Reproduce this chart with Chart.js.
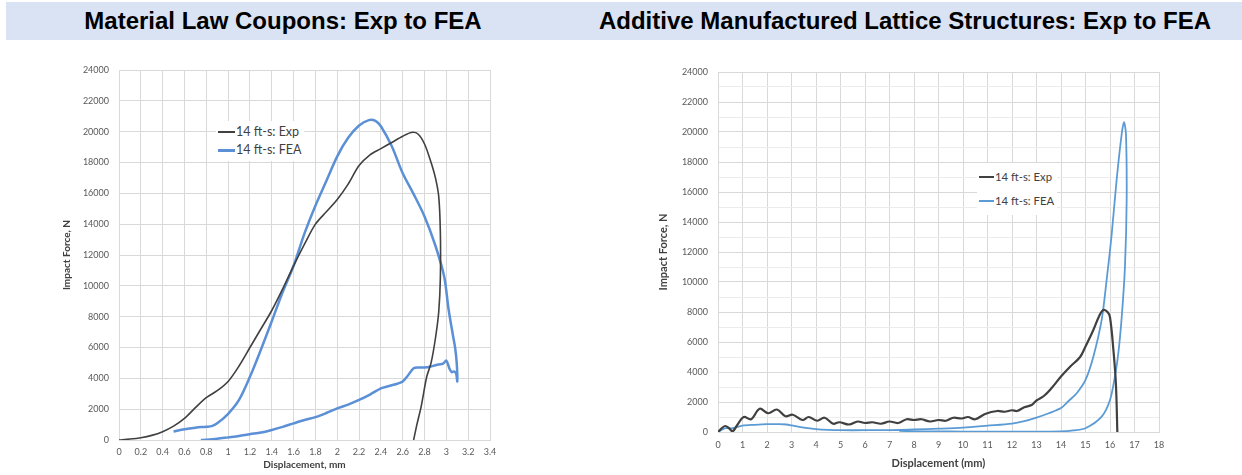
<!DOCTYPE html>
<html><head><meta charset="utf-8">
<script src="https://cdn.jsdelivr.net/npm/chart.js@4.4.1/dist/chart.umd.min.js"></script>
<style>
html,body{margin:0;padding:0;background:#fff;width:1242px;height:475px;overflow:hidden;position:relative;}
#band{position:absolute;left:6px;top:2px;width:1236px;height:38px;background:#dae3f3;}
.title{position:absolute;top:2px;width:700px;height:38px;line-height:38px;font-family:"Liberation Sans Narrow","Liberation Sans",Arial,sans-serif;font-weight:bold;font-size:24px;color:#000;text-align:center;white-space:nowrap;}
.wrap{position:absolute;}
.legend{position:absolute;background:#fff;font-family:Lato,sans-serif;color:#404040;white-space:nowrap;padding:2px 3px 2px 2px;}
.legend .row{display:flex;align-items:center;}
.legend .sw{display:inline-block;margin-right:1px;}
</style>
</head>
<body>
<div id="band"></div>
<div class="title" style="left:-67px;">Material Law Coupons: Exp to FEA</div>
<div class="title" style="left:555px;">Additive Manufactured Lattice Structures: Exp to FEA</div>

<div class="wrap" style="left:0;top:45px;width:600px;height:430px;"><canvas id="c1" width="600" height="430"></canvas></div>
<div class="wrap" style="left:620px;top:45px;width:622px;height:430px;"><canvas id="c2" width="622" height="430"></canvas></div>

<div class="legend" style="left:216px;top:121px;font-size:12.5px;line-height:18px;">
  <div class="row"><span class="sw" style="width:17px;border-top:2px solid #404040;"></span>14 ft-s: Exp</div>
  <div class="row"><span class="sw" style="width:17px;border-top:3px solid #5b8fd6;"></span>14 ft-s: FEA</div>
</div>
<div class="legend" style="left:977px;top:163px;font-size:11.3px;line-height:24px;">
  <div class="row"><span class="sw" style="width:15px;border-top:2px solid #404040;"></span>14 ft-s: Exp</div>
  <div class="row"><span class="sw" style="width:15px;border-top:2px solid #5b9bd5;"></span>14 ft-s: FEA</div>
</div>

<script>
// ---------- Left chart: Material Law Coupons ----------
const leftExpX = [0,0.1,0.2,0.3,0.4,0.5,0.6,0.7,0.8,0.9,1.0,1.1,1.2,1.3,1.4,1.5,1.6,1.7,1.8,1.9,2.0,2.1,2.2,2.3,2.4,2.5,2.6,2.68,2.74,2.8,2.86,2.9,2.93,2.945,2.945,2.93,2.9,2.86,2.82,2.77,2.73,2.70];
const leftExpY = [0,60,150,300,540,900,1400,2100,2750,3200,3800,4800,6000,7200,8400,9800,11300,12700,14000,14800,15600,16600,17800,18500,18900,19300,19700,19950,19850,19200,18000,17000,15800,13500,10500,8300,6600,5000,4100,2200,1000,0];
const leftFeaX = [0.5,0.6,0.7,0.8,0.85,0.9,1.0,1.1,1.2,1.3,1.4,1.5,1.6,1.7,1.8,1.9,2.0,2.1,2.2,2.29,2.35,2.4,2.5,2.6,2.7,2.8,2.9,2.98,3.02,3.06,3.08,3.095,3.1,3.09,3.07,3.05,3.03,3.0,2.97,2.93,2.9,2.85,2.8,2.75,2.7,2.65,2.6,2.55,2.5,2.45,2.4,2.3,2.2,2.1,2.0,1.9,1.8,1.7,1.6,1.5,1.4,1.3,1.2,1.1,1.0,0.9,0.8,0.75];
const leftFeaY = [550,700,800,860,900,1080,1700,2600,4100,5850,7700,9600,11300,13400,15200,16800,18400,19600,20400,20750,20700,20350,19050,17300,15950,14500,12600,10600,8500,6800,6000,5000,3800,4300,4450,4400,4600,5150,4950,4900,4850,4750,4700,4700,4650,4200,3800,3650,3550,3450,3350,2950,2600,2300,2050,1750,1480,1300,1080,850,650,480,380,260,170,80,20,0];
const leftXTicks = [0,0.2,0.4,0.6,0.8,1,1.2,1.4,1.6,1.8,2,2.2,2.4,2.6,2.8,3,3.2,3.4];
const leftXLabels = ["0","0.2","0.4","0.6","0.8","1","1.2","1.4","1.6","1.8","2","2.2","2.4","2.6","2.8","3","3.2","3.4"];
const leftYTicks = [0,2000,4000,6000,8000,10000,12000,14000,16000,18000,20000,22000,24000];
const leftYLabels = ["0","2000","4000","6000","8000","10000","12000","14000","16000","18000","20000","22000","24000"];

// ---------- Right chart: AM Lattice Structures ----------
const rightExpX = [0,0.15,0.3,0.45,0.6,0.8,1.05,1.35,1.7,2.05,2.4,2.75,3.05,3.45,3.7,4.05,4.35,4.7,4.95,5.35,5.7,6.0,6.3,6.65,7.0,7.35,7.7,8.0,8.3,8.65,9.0,9.3,9.6,9.95,10.2,10.5,10.9,11.4,11.7,12.0,12.2,12.5,12.8,13.0,13.3,13.6,14.0,14.37,14.78,15.0,15.32,15.55,15.73,15.9,16.0,16.14,16.24,16.3];
const rightExpY = [0,250,400,250,50,500,1000,850,1550,1250,1500,1050,1150,800,1000,750,950,550,650,500,700,600,650,550,700,600,850,800,850,700,800,750,950,900,1000,850,1200,1400,1350,1450,1400,1650,1800,2100,2400,2900,3700,4350,5000,5700,6800,7700,8130,8000,7650,5450,3250,0];
const rightFeaX = [0,0.3,0.6,1.0,1.5,2.0,2.5,2.8,3.0,3.5,4.0,4.5,5.0,6.0,7.0,8.0,9.0,10.0,11.0,12.0,12.5,13.0,13.5,14.0,14.3,14.64,15.0,15.32,15.66,15.86,16.07,16.27,16.48,16.57,16.65,16.68,16.61,16.48,16.34,16.2,16.0,15.66,15.0,14.5,14.0,13.0,12.0,11.0,10.0,9.0,8.0,7.4];
const rightFeaY = [0,250,250,420,480,520,520,500,440,290,190,140,120,120,130,170,220,290,420,560,720,960,1250,1600,2050,2580,3470,5020,7470,10100,13200,16800,19900,20650,19900,15500,11000,7700,5250,3700,2130,1020,250,110,40,30,25,25,30,40,50,70];
const rightXTicks = [0,1,2,3,4,5,6,7,8,9,10,11,12,13,14,15,16,17,18];
const rightXLabels = ["0","1","2","3","4","5","6","7","8","9","10","11","12","13","14","15","16","17","18"];
const rightYTicks = [0,1000,2000,3000,4000,5000,6000,7000,8000,9000,10000,11000,12000,13000,14000,15000,16000,17000,18000,19000,20000,21000,22000,23000,24000];
const rightYLabels = ["0","","2000","","4000","","6000","","8000","","10000","","12000","","14000","","16000","","18000","","20000","","22000","","24000"];

function pts(xs, ys){ return xs.map((x,i)=>({x:x, y:ys[i]})); }

function makeChart(id, cfg){
  new Chart(document.getElementById(id), {
    type: 'scatter',
    data: { datasets: cfg.datasets },
    options: {
      responsive: false, animation: false, devicePixelRatio: 1,
      layout: { padding: cfg.padding },
      plugins: { legend: { display: false }, tooltip: { enabled: false } },
      elements: { point: { radius: 0 } },
      scales: {
        x: {
          type: 'linear', min: cfg.xTicks[0], max: cfg.xTicks[cfg.xTicks.length-1],
          afterBuildTicks: s => { s.ticks = cfg.xTicks.map(v => ({value: v})); },
          afterFit: s => { s.height = cfg.xHeight; },
          grid: { color: '#d9d9d9', drawTicks: false, lineWidth: 1 },
          border: { color: '#d9d9d9' },
          ticks: { autoSkip: false, maxRotation: 0, padding: cfg.xTickPad, color: '#595959',
                   font: { family: 'Lato', size: cfg.tickSize }, callback: (v, i) => cfg.xLabels[i] },
          title: { display: true, text: cfg.xTitle, color: '#404040', padding: {top: 0, bottom: 4},
                   font: { family: 'Lato', size: cfg.titleSize, weight: 'bold' } }
        },
        y: {
          type: 'linear', min: cfg.yTicks[0], max: cfg.yTicks[cfg.yTicks.length-1],
          afterBuildTicks: s => { s.ticks = cfg.yTicks.map(v => ({value: v})); },
          afterFit: s => { s.width = cfg.yWidth; },
          grid: { color: c => (c.tick && cfg.yLabels[c.index] === '' ? '#ececec' : '#d9d9d9'), drawTicks: false, lineWidth: 1 },
          border: { color: '#d9d9d9' },
          ticks: { autoSkip: false, padding: cfg.yTickPad, color: '#595959',
                   font: { family: 'Lato', size: cfg.tickSize }, callback: (v, i) => cfg.yLabels[i] },
          title: { display: true, text: 'Impact Force, N', color: '#404040', padding: {top: 4, bottom: 0},
                   font: { family: 'Lato', size: cfg.titleSize, weight: 'bold' } }
        }
      }
    }
  });
}

makeChart('c1', {
  datasets: [
    { label: '14 ft-s: Exp', data: pts(leftExpX, leftExpY), showLine: true, borderColor: '#404040', borderWidth: 1.6, tension: 0.3, fill: false },
    { label: '14 ft-s: FEA', data: pts(leftFeaX, leftFeaY), showLine: true, borderColor: '#5b8fd6', borderWidth: 2.5, tension: 0.3, fill: false }
  ],
  padding: { left: 57, right: 110, top: 25, bottom: 0 },
  yWidth: 62, xHeight: 35, xTickPad: 7, yTickPad: 10, tickSize: 9, titleSize: 10,
  xTicks: leftXTicks, xLabels: leftXLabels, yTicks: leftYTicks, yLabels: leftYLabels,
  xTitle: 'Displacement, mm'
});

makeChart('c2', {
  datasets: [
    { label: '14 ft-s: Exp', data: pts(rightExpX, rightExpY), showLine: true, borderColor: '#404040', borderWidth: 2.2, tension: 0.35, fill: false },
    { label: '14 ft-s: FEA', data: pts(rightFeaX, rightFeaY), showLine: true, borderColor: '#5b9bd5', borderWidth: 1.8, tension: 0.3, fill: false }
  ],
  padding: { left: 33, right: 83, top: 27, bottom: 1 },
  yWidth: 65, xHeight: 42, xTickPad: 8, yTickPad: 10, tickSize: 9, titleSize: 11,
  xTicks: rightXTicks, xLabels: rightXLabels, yTicks: rightYTicks, yLabels: rightYLabels,
  xTitle: 'Displacement (mm)'
});
</script>
</body></html>
